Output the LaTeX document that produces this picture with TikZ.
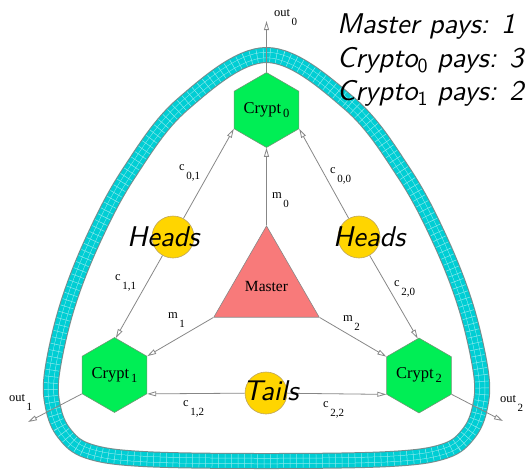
\documentclass[tikz,border=0pt]{standalone}
\usepackage{fontspec}
\newfontfamily\tnr{Liberation Serif}
\newfontfamily\bigsans{lmsans10-oblique.otf}
\newfontfamily\bigsansup{lmsans10-regular.otf}
\usetikzlibrary{shapes.geometric,arrows.meta}
\definecolor{cryptgreen}{RGB}{0,238,85}
\definecolor{hexborder}{RGB}{110,150,115}
\definecolor{coinyellow}{RGB}{255,213,0}
\definecolor{coinborder}{RGB}{190,165,95}
\definecolor{masterred}{RGB}{248,122,122}
\definecolor{linegray}{RGB}{135,135,135}
\definecolor{bandfill}{RGB}{0,206,212}
\definecolor{bandedge}{RGB}{120,140,140}
\newcommand\sublab[2]{#1\kern1.5pt\raisebox{-9pt}{\fontsize{11}{12}\selectfont #2}}
\newcommand\cryptlab[1]{Crypt\kern2pt\raisebox{-4pt}{\fontsize{12.5}{13}\selectfont #1}}
\newcommand\bigsub[1]{\raisebox{-5pt}{\bigsansup\fontsize{20}{20}\selectfont #1}}
\begin{document}
\begin{tikzpicture}[x=1pt,y=-1pt,
  hexa/.style={regular polygon, regular polygon sides=6, shape border rotate=30,
    minimum size=68pt, inner sep=0pt, fill=cryptgreen, draw=hexborder, line width=0.6pt,
    font=\tnr\fontsize{16.5}{18}\selectfont},
  coin/.style={circle, minimum size=42pt, inner sep=0pt, fill=coinyellow, draw=coinborder, line width=0.6pt},
  masterbox/.style={regular polygon, regular polygon sides=3, minimum size=109.6pt, inner sep=0pt,
    fill=masterred, draw=linegray, line width=0.6pt, font=\tnr\fontsize{15.5}{17}\selectfont},
  arr/.style={draw=linegray, line width=0.8pt, -{Triangle[open,length=9pt,width=5pt,line width=0.8pt]}},
  lab/.style={inner sep=0pt, anchor=base west, font=\tnr\fontsize{12.5}{14}\selectfont},
  bigtxt/.style={inner sep=0pt, anchor=base west, font=\bigsans\fontsize{28.5}{33}\selectfont}]
\useasboundingbox (0,0) rectangle (529,469);
% band
\path[postaction={draw=bandedge, line width=16pt},
      postaction={draw=bandfill, line width=14pt},
      postaction={draw=white!55!bandfill, line width=0.5pt, double=bandfill, double distance=5pt},
      postaction={draw=white!55!bandfill, line width=13.5pt, dash pattern=on 0.5pt off 6pt}]
  plot[smooth cycle, tension=0.6] coordinates {
  (266.5,55) (350,104) (404,173) (440,240) (466,307) (481,373) (480,407) (469,433) (445,451) (390,459)
  (266.5,461) (143,459) (88,451) (64,433) (53,407) (52,373) (67,307) (93,240) (129,173) (183,104)};
% nodes
\node[hexa] (C0) at (266.5,110) {\cryptlab{0}};
\node[hexa] (C1) at (114.5,375) {\cryptlab{1}};
\node[hexa] (C2) at (419,375.5) {\cryptlab{2}};
\node[masterbox] (M) at (266.5,286.8) {Master};
\node[coin] (cL) at (173,237) {};
\node[coin] (cR) at (359,237) {};
\node[coin] (cB) at (266,393) {};
\coordinate (o0) at (266.5,21);
\coordinate (o1) at (28,422);
\coordinate (o2) at (503,421);
% connectors
\draw[arr] (cL) -- (C0.210);
\draw[arr] (cL) -- (C1.88);
\draw[arr] (cR) -- (C0.330);
\draw[arr] (cR) -- (C2.92);
\draw[arr] (M.90) -- (C0.270);
\draw[arr] (M.210) -- (C1.30);
\draw[arr] (M.330) -- (C2.150);
\draw[arr] (cB) -- (C1.330);
\draw[arr] (cB) -- (C2.210);
\draw[arr] (C0.90) -- (o0);
\draw[arr] (C1.210) -- (o1);
\draw[arr] (C2.330) -- (o2);
% labels
\node[lab] (l1) at (274,16) {\sublab{out}{0}};
\node[lab] (l2) at (179,170) {\sublab{c}{0,1}};
\node[lab] (l3) at (330,173) {\sublab{c}{0,0}};
\node[lab] (l4) at (272,198) {\sublab{m}{0}};
\node[lab] (l5) at (115,280) {\sublab{c}{1,1}};
\node[lab] (l6) at (394,286) {\sublab{c}{2,0}};
\node[lab] (l7) at (168,318) {\sublab{m}{1}};
\node[lab] (l8) at (343,321) {\sublab{m}{2}};
\node[lab] (l9) at (183,406) {\sublab{c}{1,2}};
\node[lab] (l10) at (323,407) {\sublab{c}{2,2}};
\node[lab] (l11) at (9,401) {\sublab{out}{1}};
\node[lab] (l12) at (500,402) {\sublab{out}{2}};
% big texts
\node[bigtxt] (t1) at (337,33) {Master pays: 1};
\node[bigtxt] (t2) at (337,67) {Crypto\bigsub{0} pays: 3};
\node[bigtxt] (t3) at (337,100) {Crypto\bigsub{1} pays: 2};
\node[bigtxt] (h1) at (127,246) {Heads};
\node[bigtxt] (h2) at (333,246) {Heads};
\node[bigtxt] (h3) at (243,400) {Tails};
\end{tikzpicture}
\end{document}
